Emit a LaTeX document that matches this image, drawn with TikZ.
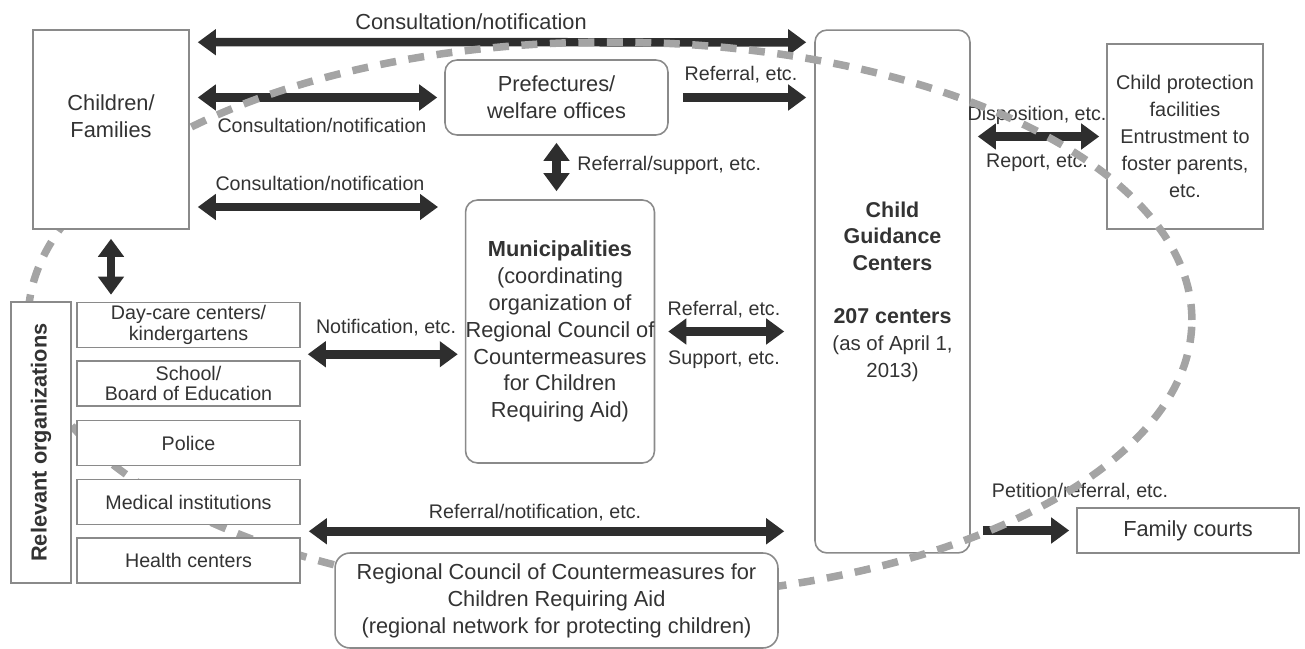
\documentclass[tikz,border=0pt]{standalone}
\usepackage{fontspec}
\setmainfont{Liberation Sans}
\usetikzlibrary{arrows.meta,calc}

\definecolor{boxline}{HTML}{8A8A8A}
\definecolor{arrowgray}{HTML}{2E2E2E}
\definecolor{textgray}{HTML}{333333}
\definecolor{ringgray}{HTML}{A4A4A4}

\pgfdeclarelayer{front}
\pgfsetlayers{main,front}

\newcommand{\bigtxt}{\fontsize{12.4}{15.3}\selectfont}
\newcommand{\smalltxt}{\fontsize{11.2}{13.5}\selectfont}

\begin{document}
\begin{tikzpicture}[x=0.02cm,y=-0.02cm,
    font=\smalltxt, text=textgray,
    box/.style={draw=boxline, line width=0.9pt, fill=white, inner sep=0pt, align=center},
    rbox/.style={box, rounded corners=0.24cm},
    orgbox/.style={box, minimum width=4.46cm, minimum height=0.9cm, font=\fontsize{11.2}{11.8}\selectfont},
    arr/.style={draw=arrowgray, line width=0.17cm, -{Triangle[width=0.5cm,length=0.36cm]}},
    dbl/.style={arr, {Triangle[width=0.5cm,length=0.36cm]}-{Triangle[width=0.5cm,length=0.36cm]}},
    lbl/.style={inner sep=0pt, font=\smalltxt},
    ring/.style={draw=ringgray, line width=0.15cm, dash pattern=on 0.32cm off 0.25cm}]
	\useasboundingbox (0,0) rectangle (1305,649);
	
	% boxes that cover the dashed ring
	\begin{pgfonlayer}{front}
		\node[box, minimum width=3.12cm, minimum height=3.98cm] (fam) at (111,129.5) {};
		\node[font=\bigtxt, align=center] (famtxt) at (111,116) {Children/\\Families};
		
		\node[box, minimum width=1.2cm, minimum height=5.62cm] (rel) at (41,442.5) {};
		\node[rotate=90, font=\bigtxt\bfseries] (reltxt) at (41,442.5) {Relevant organizations};
		
		\node[orgbox] (day) at (188.5,325) {Day-care centers/\\kindergartens};
		\node[orgbox] (school) at (188.5,383.5) {School/\\Board of Education};
		\node[orgbox] (police) at (188.5,443) {Police};
		\node[orgbox] (med) at (188.5,502) {Medical institutions};
		\node[orgbox] (health) at (188.5,560.5) {Health centers};
		
		\node[rbox, rounded corners=0.3cm, minimum width=8.86cm, minimum height=1.9cm, font=\bigtxt] (reg) at (556.5,600.5) {Regional Council of Countermeasures for\\Children Requiring Aid\\(regional network for protecting children)};
	\end{pgfonlayer}
	
	\node[rbox, minimum width=4.46cm, minimum height=1.5cm, font=\bigtxt] (pref) at (556.5,97.5) {Prefectures/\\welfare offices};
	\node[rbox, minimum width=3.6cm, minimum height=5.26cm, font=\bigtxt] (muni) at (560,331.5) {\textbf{Municipalities}\\(coordinating\\organization of\\Regional Council of\\Countermeasures\\for Children\\Requiring Aid)};
	\node[rbox, fill=none, minimum width=3.1cm, minimum height=10.46cm, font=\fontsize{12.2}{15.2}\selectfont] (cgc) at (892.5,291.5) {\textbf{Child}\\\textbf{Guidance}\\\textbf{Centers}\\[15pt]\textbf{207 centers}\\{\fontsize{11.6}{15.2}\selectfont(as of April 1,}\\{\fontsize{11.6}{15.2}\selectfont 2013)}};
	\node[box, fill=none, minimum width=3.12cm, minimum height=3.7cm, font=\fontsize{11.3}{15.4}\selectfont] (cpf) at (1185,136.5) {Child protection\\facilities\\Entrustment to\\foster parents,\\etc.};
	\node[box, minimum width=4.44cm, minimum height=0.9cm, font=\bigtxt] (fc) at (1188,530.5) {Family courts};
	
	% consultation from children/families
	\draw[dbl] ($(fam.north east)+(8,13)$) -- ($(cgc.north west)+(-8,13)$);
	\node[lbl, font=\bigtxt] (consult1) at (471,22) {Consultation/notification};
	\draw[dbl, shorten <=0.16cm, shorten >=0.14cm] (pref.west -| fam.east) -- (pref.west);
	\node[lbl] (consult2) at (322,125) {Consultation/notification};
	\coordinate (c3end) at (438,207);
	\draw[dbl, shorten <=0.16cm] (fam.east |- c3end) -- (c3end);
	\node[lbl] (consult3) at (320,183) {Consultation/notification};
	
	\draw[arr, shorten <=0.28cm, shorten >=0.16cm] (pref.east) -- (pref.east -| cgc.west);
	\node[lbl] (referral1) at (741,75) {Referral, etc.};
	
	\draw[dbl, shorten <=0.14cm, shorten >=0.16cm] (pref.south) -- (pref.south |- muni.north);
	\node[lbl, anchor=west] (refsupport) at (577,165) {Referral/support, etc.};
	
	\draw[dbl, shorten <=0.18cm, shorten >=0.14cm] (fam.south) -- (fam.south |- day.north);
	
	% relevant organizations to municipalities
	\coordinate (notif) at ($(day.south east)!.5!(school.north east)$);
	\draw[dbl, shorten <=0.14cm, shorten >=0.14cm] (notif) -- (notif -| muni.west);
	\node[lbl] (notiflbl) at (386,328) {Notification, etc.};
	
	\draw[dbl, shorten <=0.26cm, shorten >=0.6cm] (muni.east) -- (muni.east -| cgc.west);
	\node[lbl] (referral2) at (724,310) {Referral, etc.};
	\node[lbl] (support) at (724,360) {Support, etc.};
	
	\draw[dbl, shorten <=0.14cm, shorten >=0.14cm] (cpf.west -| cgc.east) -- (cpf.west);
	\node[lbl] (dispo) at (1037,115) {Disposition, etc.};
	\node[lbl] (report) at (1037,163) {Report, etc.};
	
	\coordinate (refnot) at ($(med.south east)!.5!(health.north east)$);
	\draw[dbl, shorten <=0.16cm, shorten >=0.6cm] (refnot) -- (refnot -| cgc.west);
	\node[lbl] (refnotlbl) at (535,513) {Referral/notification, etc.};
	
	\draw[arr, shorten <=0.24cm, shorten >=0.14cm] (fc.west -| cgc.east) -- (fc.west);
	\node[lbl] (petition) at (1080,492) {Petition/referral, etc.};
	
	% regional network ring
	\draw[ring] (610,320) ellipse [x radius=11.64cm, y radius=5.56cm];
	
\end{tikzpicture}
\end{document}
